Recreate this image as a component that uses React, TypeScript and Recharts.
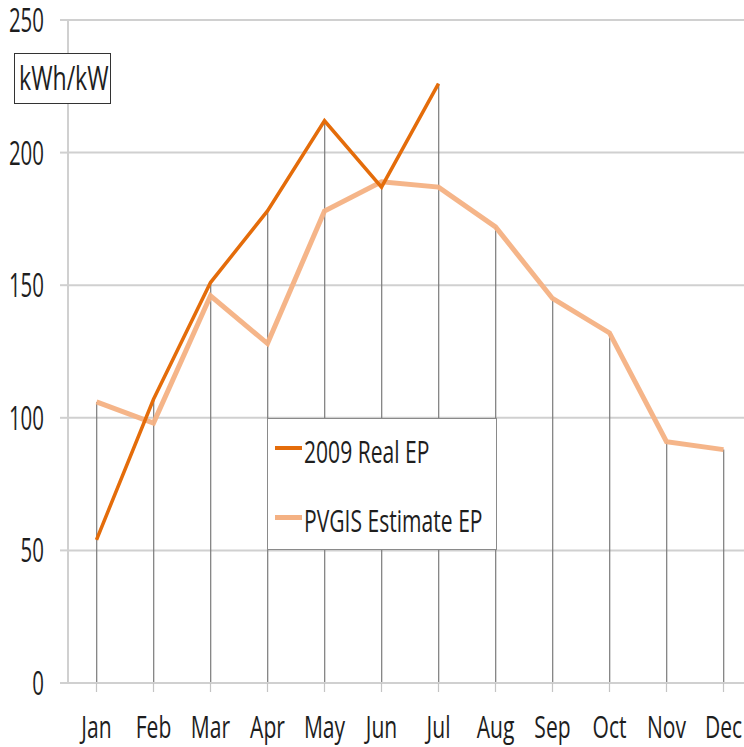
import React from "react";
import {
  ComposedChart,
  Line,
  Bar,
  XAxis,
  YAxis,
  CartesianGrid,
} from "recharts";

const months = ["Jan", "Feb", "Mar", "Apr", "May", "Jun", "Jul", "Aug", "Sep", "Oct", "Nov", "Dec"];
const realEP = [54, 107, 151, 178, 212, 187, 226, null, null, null, null, null];
const pvgisEP = [106, 98, 146, 128, 178, 189, 187, 172, 145, 132, 91, 88];
const yTicks = [0, 50, 100, 150, 200, 250];

const series = [
  { key: "real", name: "2009 Real EP", color: "#E46C0A", width: 3.5, opacity: 1 },
  { key: "pvgis", name: "PVGIS Estimate EP", color: "#F4B183", width: 5, opacity: 0.95 },
];

const data = months.map((m, i) => ({
  month: m,
  real: realEP[i],
  pvgis: pvgisEP[i],
  // drop line reaches the higher of the two series
  drop: Math.max(realEP[i] ?? 0, pvgisEP[i]),
}));

const FONT = "'Open Sans', sans-serif";

const YTick = (props: any) => {
  const { x, y, payload } = props;
  return (
    <text
      transform={`translate(${x},${y + 12}) scale(0.62,1)`}
      textAnchor="end"
      fontFamily={FONT}
      fontSize={33}
      fill="#1e1e1e"
    >
      {payload.value}
    </text>
  );
};

const XTick = (props: any) => {
  const { x, y, payload } = props;
  return (
    <text
      transform={`translate(${x},${y + 46}) scale(0.68,1)`}
      textAnchor="middle"
      fontFamily={FONT}
      fontSize={31}
      fill="#1e1e1e"
    >
      {payload.value}
    </text>
  );
};

const DropLine = (p: any) => {
  if (p.height == null || p.width == null) return null;
  const cx = p.x + p.width / 2;
  return <line x1={cx} x2={cx} y1={p.y} y2={p.y + p.height} stroke="#7a7a7a" strokeWidth={1.2} />;
};

export default function App() {
  return (
    <div
      style={{
        position: "fixed",
        left: 0,
        top: 0,
        width: 744,
        height: 747,
        overflow: "hidden",
        background: "#fff",
      }}
    >
      <ComposedChart
        width={752}
        height={747}
        data={data}
        margin={{ top: 20, right: 0, bottom: 0, left: 0 }}
      >
        <CartesianGrid horizontal vertical={false} stroke="#d0d0d0" strokeWidth={2} />
        <XAxis
          dataKey="month"
          height={64}
          axisLine={{ stroke: "#d0d0d0", strokeWidth: 2 }}
          tickLine={{ stroke: "#c4c4c4", strokeWidth: 1.2 }}
          tickSize={9}
          tickMargin={0}
          tick={<XTick />}
          interval={0}
        />
        <YAxis
          width={68}
          domain={[0, 250]}
          ticks={yTicks}
          axisLine={{ stroke: "#d0d0d0", strokeWidth: 2 }}
          tickLine={{ stroke: "#d0d0d0", strokeWidth: 2 }}
          tickSize={8}
          tickMargin={16}
          tick={<YTick />}
          interval={0}
        />
        <Bar dataKey="drop" shape={<DropLine />} isAnimationActive={false} />
        <Line
          type="linear"
          dataKey="pvgis"
          stroke={series[1].color}
          strokeWidth={series[1].width}
          strokeOpacity={series[1].opacity}
          dot={false}
          activeDot={false}
          isAnimationActive={false}
        />
        <Line
          type="linear"
          dataKey="real"
          stroke={series[0].color}
          strokeWidth={series[0].width}
          dot={false}
          activeDot={false}
          connectNulls={false}
          isAnimationActive={false}
        />
      </ComposedChart>

      {/* unit label box */}
      <div
        style={{
          position: "absolute",
          left: 14,
          top: 53,
          width: 95,
          height: 49,
          border: "1.5px solid #333",
          background: "#fff",
          overflow: "hidden",
        }}
      >
        <span
          style={{
            position: "absolute",
            left: 4,
            top: 2,
            fontFamily: FONT,
            fontSize: 33,
            lineHeight: "44px",
            color: "#1e1e1e",
            whiteSpace: "nowrap",
            transform: "scale(0.7,1)",
            transformOrigin: "left top",
          }}
        >
          kWh/kW
        </span>
      </div>

      {/* legend */}
      <div
        style={{
          position: "absolute",
          left: 267,
          top: 418,
          width: 228,
          height: 130,
          border: "1px solid #8a8a8a",
          background: "#fff",
        }}
      >
        {series.map((s, i) => (
          <div key={s.key}>
            <div
              style={{
                position: "absolute",
                left: 7,
                top: (i === 0 ? 29 : 98) - s.width / 2,
                width: 27,
                height: s.width,
                background: s.color,
              }}
            />
            <span
              style={{
                position: "absolute",
                left: 36,
                top: i === 0 ? 12 : 81,
                fontFamily: FONT,
                fontSize: 31,
                lineHeight: "40px",
                color: "#1e1e1e",
                whiteSpace: "nowrap",
                transform: "scale(0.68,1)",
                transformOrigin: "left top",
              }}
            >
              {s.name}
            </span>
          </div>
        ))}
      </div>
    </div>
  );
}
